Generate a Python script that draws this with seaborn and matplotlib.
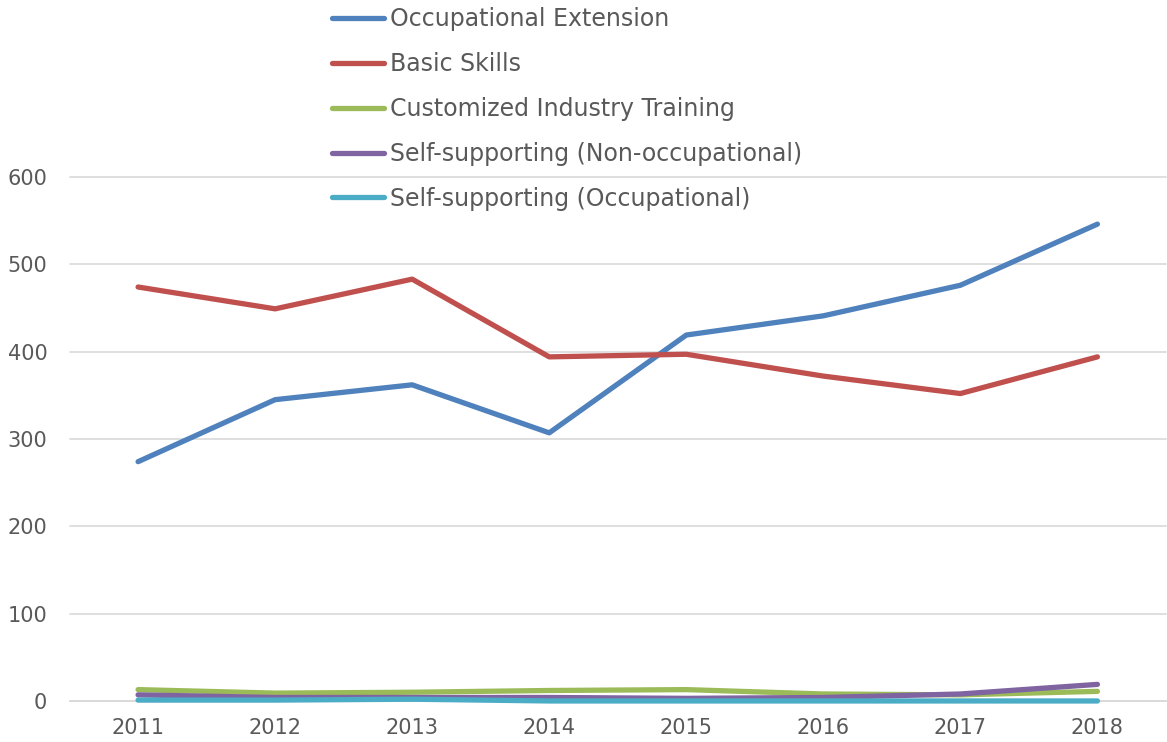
import pandas as pd
import matplotlib.pyplot as plt
import seaborn as sns

# data
years = [2011, 2012, 2013, 2014, 2015, 2016, 2017, 2018]
occupational_extension = [274, 345, 362, 307, 419, 441, 476, 546]
basic_skills = [474, 449, 483, 394, 397, 372, 352, 394]
customized_training = [13, 9, 10, 12, 13, 8, 7, 11]
self_non_occ = [7, 4, 4, 4, 3, 4, 8, 19]
self_occ = [1, 1, 2, 0, 0, 0, 0, 0]

series_names = [
    "Occupational Extension",
    "Basic Skills",
    "Customized Industry Training",
    "Self-supporting (Non-occupational)",
    "Self-supporting (Occupational)",
]
series_values = [occupational_extension, basic_skills, customized_training,
                 self_non_occ, self_occ]
colors = ["#4F81BD", "#C0504D", "#9BBB59", "#8064A2", "#4BACC6"]

rows = []
for name, vals in zip(series_names, series_values):
    for yr, v in zip(years, vals):
        rows.append({"Year": yr, "Value": v, "Series": name})
df = pd.DataFrame(rows)

sns.set_style("white")
plt.rcParams['font.family'] = ['DejaVu Sans']
text_color = "#595959"

fig = plt.figure(figsize=(11.67, 7.42), dpi=100)
ax = fig.add_axes([0.0596, 0.0553, 0.9395, 0.7062])

sns.lineplot(data=df, x="Year", y="Value", hue="Series", hue_order=series_names,
             palette=colors, linewidth=3.8, ax=ax, legend=False,
             solid_capstyle="round")
for ln in ax.get_lines():
    ln.set_clip_on(False)
    ln.set_zorder(5)

ax.set_xlim(2010.5, 2018.5)
ax.set_ylim(0, 600)
ax.set_yticks([0, 100, 200, 300, 400, 500, 600])
ax.set_xticks(years)
ax.grid(axis="y", color="#D9D9D9", linewidth=1.2)
for gl in ax.get_ygridlines():
    gl.set_clip_on(False)
ax.set_axisbelow(True)
for s in ["top", "right", "left"]:
    ax.spines[s].set_visible(False)
ax.spines["bottom"].set_color("#D9D9D9")
ax.spines["bottom"].set_linewidth(1.2)
ax.spines["bottom"].set_zorder(0)
ax.set_xlabel("")
ax.set_ylabel("")
ax.tick_params(axis="both", length=0, labelsize=15, colors=text_color)
ax.tick_params(axis="x", pad=12)
ax.tick_params(axis="y", pad=16)

handles = [plt.Line2D([0], [0], color=c, linewidth=3.8, solid_capstyle="round")
           for c in colors]
leg = fig.legend(handles, series_names, loc="upper left",
                 bbox_to_anchor=(323 / 1167, 1.0 + 2 / 742), frameon=False,
                 fontsize=17, handlelength=2.2, handletextpad=0.25,
                 labelspacing=0.88, borderaxespad=0)
for t in leg.get_texts():
    t.set_color(text_color)

fig.savefig("out.png", dpi=100)
